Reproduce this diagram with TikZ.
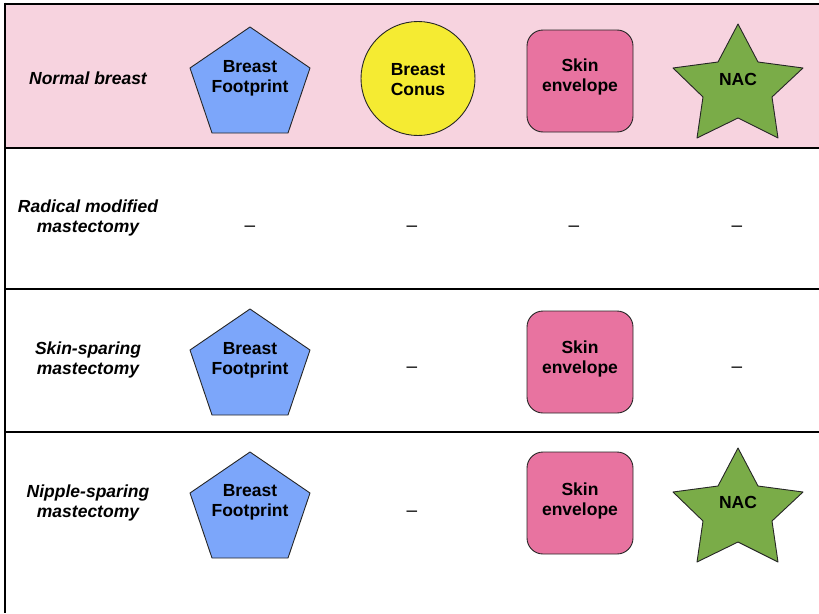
\documentclass[tikz,border=0pt]{standalone}
\usepackage{fontspec}
\setmainfont{Liberation Sans}
\usetikzlibrary{calc}
\definecolor{rowpink}{RGB}{247,211,223}
\definecolor{fpblue}{RGB}{124,166,250}
\definecolor{conusyellow}{RGB}{245,235,50}
\definecolor{skinpink}{RGB}{232,115,160}
\definecolor{nacgreen}{RGB}{122,172,72}
\tikzset{
  lbl/.style={font=\fontsize{17.5}{20}\selectfont\bfseries\itshape, align=center},
  shtxt/.style={font=\fontsize{17.5}{20}\selectfont\bfseries, align=center},
  dashtxt/.style={font=\fontsize{19}{20}\selectfont},
  grid/.style={line width=2pt, black},
  outline/.style={draw=black!85, line width=0.9pt, line join=round},
}
\newcommand{\pentshape}[1]{%
  \path[outline, fill=fpblue] ($(#1)+(0,-55)$) -- ++(60,41) -- ++(-22,65) -- ++(-76,0) -- ++(-22,-65) -- cycle;}
\newcommand{\starshape}[1]{%
  \path[outline, fill=nacgreen] ($(#1)+(0,-56)$) -- ++(-20,38) -- ++(-45,6) -- ++(30,29) -- ++(-6,41) -- ++(41,-20) -- ++(40,20) -- ++(-6,-41) -- ++(31,-29) -- ++(-45,-6) -- cycle;}
\begin{document}
\begin{tikzpicture}[x=1pt,y=-1pt]
\useasboundingbox (0,0) rectangle (819,613);
\fill[rowpink] (5,4) rectangle (819,148);
% grid
\draw[grid] (5,3.5) -- (819,3.5);
\draw[grid] (5,2.5) -- (5,613);
\draw[grid] (5,148) -- (819,148);
\draw[grid] (5,289) -- (819,289);
\draw[grid] (5,432) -- (819,432);
% row labels
\node[lbl] (l1) at (88,78) {Normal breast};
\node[lbl] (l2) at (88,218) {Radical modified\\mastectomy};
\node[lbl] (l3) at (88,360) {Skin-sparing\\mastectomy};
\node[lbl] (l4) at (88,503) {Nipple-sparing\\mastectomy};
% row 1
\coordinate (p1) at (250,82);
\pentshape{p1}
\node[shtxt] (fp1) at (250,78) {Breast\\Footprint};
\node[circle, outline, fill=conusyellow, minimum size=114pt, inner sep=0pt] (bc1) at (418,78.5) {};
\node[shtxt] (bct1) at (418,80) {Breast\\Conus};
\node[outline, fill=skinpink, rounded corners=16pt, minimum width=106pt, minimum height=102pt] (se1) at (580,81) {};
\node[shtxt] (set1) at (580,77) {Skin\\envelope};
\coordinate (s1) at (738,80);
\starshape{s1}
\node[shtxt] (nac1) at (738,79) {NAC};
% row 2
\node[dashtxt] (d21) at (250,229) {--};
\node[dashtxt] (d22) at (412,229) {--};
\node[dashtxt] (d23) at (574,229) {--};
\node[dashtxt] (d24) at (737,229) {--};
% row 3
\coordinate (p3) at (250,364);
\pentshape{p3}
\node[shtxt] (fp3) at (250,360) {Breast\\Footprint};
\node[dashtxt] (d32) at (412,370) {--};
\node[outline, fill=skinpink, rounded corners=16pt, minimum width=106pt, minimum height=102pt] (se3) at (580,362) {};
\node[shtxt] (set3) at (580,359) {Skin\\envelope};
\node[dashtxt] (d34) at (737,370) {--};
% row 4
\coordinate (p4) at (250,507);
\pentshape{p4}
\node[shtxt] (fp4) at (250,502) {Breast\\Footprint};
\node[dashtxt] (d42) at (412,514) {--};
\node[outline, fill=skinpink, rounded corners=16pt, minimum width=106pt, minimum height=102pt] (se4) at (580,503) {};
\node[shtxt] (set4) at (580,501) {Skin\\envelope};
\coordinate (s4) at (738,504);
\starshape{s4}
\node[shtxt] (nac4) at (738,502) {NAC};
\end{tikzpicture}
\end{document}
